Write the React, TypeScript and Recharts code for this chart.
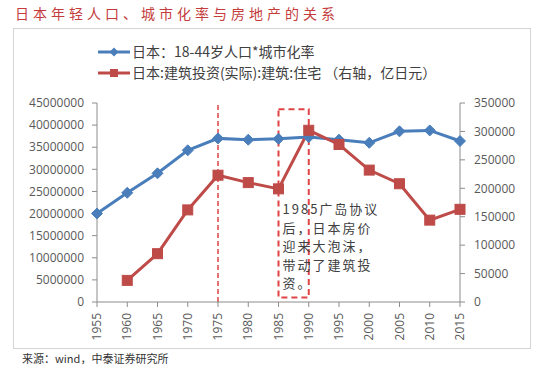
import React from 'react';
import { LineChart, Line, XAxis, YAxis, ReferenceLine, ReferenceArea } from 'recharts';

const title = '日本年轻人口、城市化率与房地产的关系';
const sourceNote = '来源：wind，中泰证券研究所';
const seriesNames = ['日本：18-44岁人口*城市化率', '日本:建筑投资(实际):建筑:住宅 （右轴，亿日元）'];
const years = [1955, 1960, 1965, 1970, 1975, 1980, 1985, 1990, 1995, 2000, 2005, 2010, 2015];
const youngUrbanPop = [20000000, 24700000, 29100000, 34300000, 37000000, 36700000, 36900000, 37300000, 36700000, 36000000, 38600000, 38800000, 36400000];
const housingInvestment: (number | null)[] = [null, 38000, 85000, 162000, 223000, 210000, 199000, 302000, 277000, 232000, 208000, 144000, 163000];
const leftTicks = [0, 5000000, 10000000, 15000000, 20000000, 25000000, 30000000, 35000000, 40000000, 45000000];
const rightTicks = [0, 50000, 100000, 150000, 200000, 250000, 300000, 350000];
const annotationLines = ['1985广岛协议', '后，日本房价', '迎来大泡沫，', '带动了建筑投', '资。'];
const markerYear = 1975;
const bubbleStart = 1985;
const bubbleEnd = 1990;

const data = years.map((y, i) => ({ year: y, pop: youngUrbanPop[i], inv: housingInvestment[i] }));

const BLUE = '#4a7ebb';
const RED = '#be4b48';
const AXIS = '#8c8c8c';
const TICK_FONT = 'Open Sans, sans-serif';
const CJK = '"Noto Sans CJK SC", sans-serif';

const Diamond = (props: any) => {
  const { cx, cy } = props;
  if (cx == null || cy == null) return null;
  const r = 5.5;
  return <polygon points={`${cx},${cy - r} ${cx + r},${cy} ${cx},${cy + r} ${cx - r},${cy}`} fill={BLUE} stroke={BLUE} />;
};

const Square = (props: any) => {
  const { cx, cy, value } = props;
  if (cx == null || cy == null || value == null) return null;
  const s = 5;
  return <rect x={cx - s} y={cy - s} width={2 * s} height={2 * s} fill={RED} stroke={RED} />;
};

const XTick = (props: any) => {
  const { x, y, payload } = props;
  return (
    <text x={x} y={y} transform={`rotate(-90, ${x}, ${y})`} textAnchor="end" dy="0.35em" fill="#595959" fontSize={12} fontFamily={TICK_FONT}>
      {payload.value}
    </text>
  );
};

const AnnoLabel = (props: any) => {
  const vb = props.viewBox || {};
  const x0 = (vb.x ?? 0) + 4;
  const y0 = (vb.y ?? 0) + 105;
  return (
    <g>
      {annotationLines.map((l, i) => (
        <text key={i} x={x0} y={y0 + i * 18.5} fill="#404040" fontSize={13} fontFamily={CJK} letterSpacing={2}>{l}</text>
      ))}
    </g>
  );
};

export default function App() {
  return (
    <div style={{ position: 'absolute', left: 0, top: 0, width: 536, height: 371, background: '#fff', overflow: 'hidden' }}>
      <div style={{ position: 'absolute', left: 13, top: 28, width: 516, height: 319, border: '1px solid #d4d4d4' }} />
      <div style={{ position: 'absolute', left: 15, top: 3, fontFamily: CJK, fontSize: 14, letterSpacing: 4, color: '#c43c3c', whiteSpace: 'nowrap', lineHeight: '20px' }}>{title}</div>
      <div style={{ position: 'absolute', left: 98, top: 41, fontFamily: CJK, fontSize: 14, color: '#404040', lineHeight: '21px' }}>
        <div style={{ display: 'flex', alignItems: 'center', whiteSpace: 'nowrap' }}>
          <svg width={32} height={12} style={{ marginRight: 2 }}>
            <line x1={0} y1={6} x2={32} y2={6} stroke={BLUE} strokeWidth={3} />
            <polygon points="16,1.5 20.5,6 16,10.5 11.5,6" fill={BLUE} />
          </svg>
          <span>{seriesNames[0]}</span>
        </div>
        <div style={{ display: 'flex', alignItems: 'center', whiteSpace: 'nowrap' }}>
          <svg width={32} height={12} style={{ marginRight: 2 }}>
            <line x1={0} y1={6} x2={32} y2={6} stroke={RED} strokeWidth={3} />
            <rect x={12} y={2} width={8} height={8} fill={RED} />
          </svg>
          <span>{seriesNames[1]}</span>
        </div>
      </div>
      <div style={{ position: 'absolute', left: 22, top: 350, fontFamily: CJK, fontSize: 11, color: '#333', whiteSpace: 'nowrap' }}>{sourceNote}</div>
      <div style={{ position: 'absolute', left: 0, top: 0 }}>
        <LineChart width={536} height={371} data={data} margin={{ top: 103, right: 6, bottom: 25, left: 0 }}>
          <XAxis
            dataKey="year"
            type="number"
            domain={[years[0], years[years.length - 1]]}
            ticks={years}
            interval={0}
            height={44}
            tick={<XTick />}
            tickSize={5}
            tickMargin={6}
            stroke={AXIS}
            tickLine={{ stroke: AXIS }}
            axisLine={{ stroke: AXIS }}
          />
          <YAxis
            yAxisId="left"
            domain={[0, 45000000]}
            ticks={leftTicks}
            width={97}
            tickSize={5}
            tickMargin={8}
            interval={0}
            axisLine={{ stroke: AXIS }}
            tickLine={{ stroke: AXIS }}
            tick={{ fill: '#595959', fontSize: 12, fontFamily: TICK_FONT }}
          />
          <YAxis
            yAxisId="right"
            orientation="right"
            domain={[0, 350000]}
            ticks={rightTicks}
            width={70}
            tickSize={5}
            tickMargin={9}
            interval={0}
            axisLine={{ stroke: AXIS }}
            tickLine={{ stroke: AXIS }}
            tick={{ fill: '#595959', fontSize: 12, fontFamily: TICK_FONT, textAnchor: 'start' }}
          />
          <ReferenceLine yAxisId="left" x={markerYear} stroke="#e04444" strokeDasharray="5 3" strokeWidth={1.5} />
          <ReferenceArea
            yAxisId="left"
            x1={bubbleStart}
            x2={bubbleEnd}
            y1={1000000}
            y2={43600000}
            stroke="#e04444"
            strokeDasharray="6 4"
            strokeWidth={2}
            fill="none"
            fillOpacity={0}
            label={(p: any) => <AnnoLabel {...p} />}
          />
          <Line yAxisId="left" dataKey="pop" stroke={BLUE} strokeWidth={3} dot={<Diamond />} isAnimationActive={false} />
          <Line yAxisId="right" dataKey="inv" stroke={RED} strokeWidth={3} dot={<Square />} connectNulls={false} isAnimationActive={false} />
        </LineChart>
      </div>
    </div>
  );
}
